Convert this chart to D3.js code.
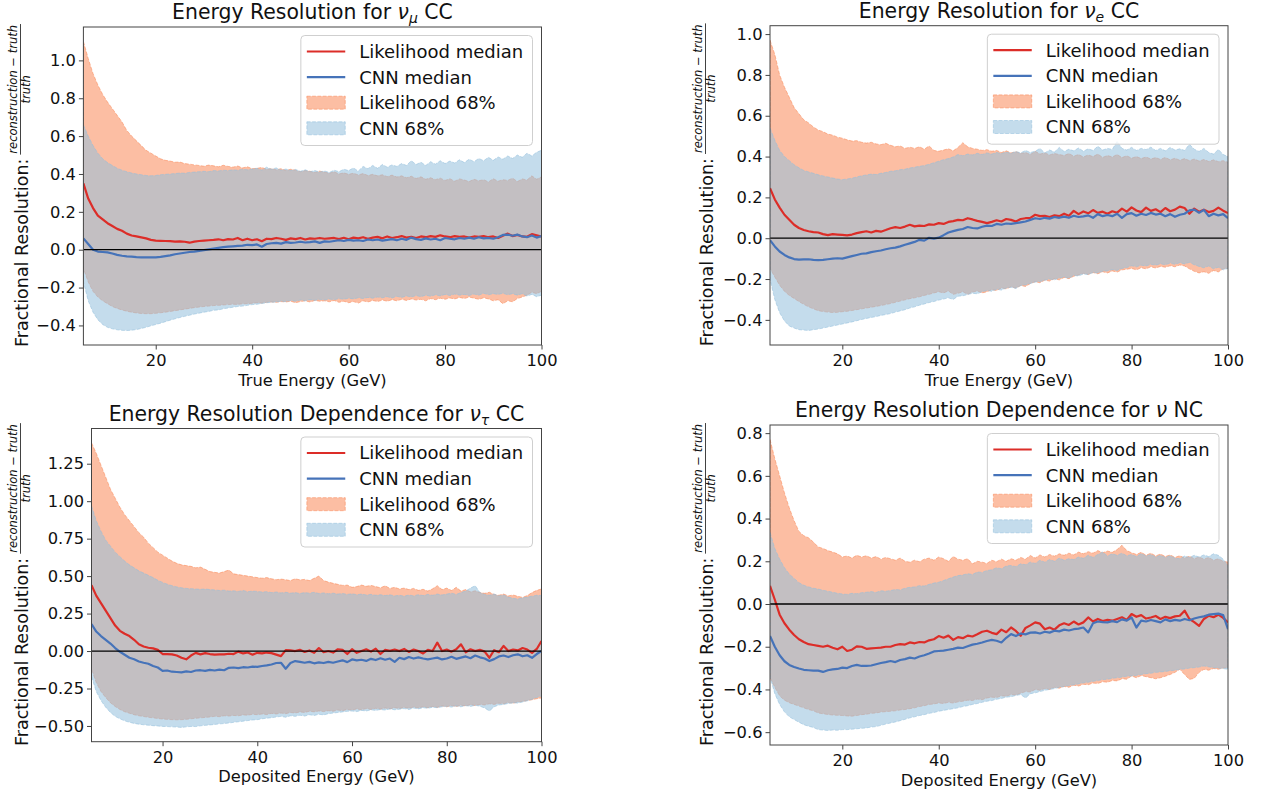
<!DOCTYPE html>
<html>
<head>
<meta charset="utf-8">
<script src="https://cdn.jsdelivr.net/npm/d3@7"></script>
<style>
  body { margin: 0; background: #fff; }
  svg { display: block; }
</style>
</head>
<body>
<svg id="fig" width="1261" height="792"></svg>
<script>
// energy bins (GeV), shared by all four panels
const energy = [5,6,7,8,9,10,11,12,13,14,15,16,17,18,19,20,21,22,23,24,25,26,27,28,29,30,31,32,33,34,35,36,37,38,39,40,41,42,43,44,45,46,47,48,49,50,51,52,53,54,55,56,57,58,59,60,61,62,63,64,65,66,67,68,69,70,71,72,73,74,75,76,77,78,79,80,81,82,83,84,85,86,87,88,89,90,91,92,93,94,95,96,97,98,99,100]

const xTicks = [20, 40, 60, 80, 100]
const numuYTicks = [-0.4, -0.2, 0.0, 0.2, 0.4, 0.6, 0.8, 1.0]
const nueYTicks = [-0.4, -0.2, 0.0, 0.2, 0.4, 0.6, 0.8, 1.0]
const nutauYTicks = [-0.5, -0.25, 0.0, 0.25, 0.5, 0.75, 1.0, 1.25]
const ncYTicks = [-0.6, -0.4, -0.2, 0.0, 0.2, 0.4, 0.6, 0.8]

const legendLabels = ['Likelihood median', 'CNN median', 'Likelihood 68%', 'CNN 68%']

// ---- nu_mu CC ----
const numuLhMed = [0.35,0.27,0.22,0.18,0.16,0.14,0.125,0.11,0.10,0.085,
  0.075,0.07,0.065,0.06,0.052,0.048,0.047,0.046,0.045,0.043,
  0.044,0.042,0.037,0.043,0.046,0.048,0.05,0.052,0.055,0.05,
  0.056,0.054,0.062,0.05,0.058,0.05,0.055,0.045,0.058,0.056,
  0.062,0.058,0.052,0.06,0.056,0.062,0.054,0.06,0.058,0.062,
  0.058,0.06,0.062,0.056,0.063,0.055,0.064,0.06,0.066,0.058,
  0.064,0.068,0.06,0.07,0.062,0.066,0.072,0.064,0.068,0.062,
  0.07,0.066,0.072,0.068,0.076,0.07,0.066,0.072,0.068,0.07,
  0.064,0.07,0.068,0.072,0.066,0.07,0.062,0.074,0.085,0.072,
  0.078,0.07,0.068,0.082,0.076,0.07]
const numuCnnMed = [0.06,0.03,0.0,-0.01,-0.012,-0.014,-0.02,-0.027,-0.032,-0.035,
  -0.037,-0.039,-0.04,-0.041,-0.04,-0.04,-0.038,-0.034,-0.03,-0.024,
  -0.02,-0.016,-0.012,-0.01,-0.006,-0.002,0.002,0.006,0.01,0.014,
  0.016,0.018,0.02,0.022,0.026,0.024,0.028,0.016,0.03,0.034,
  0.036,0.032,0.04,0.036,0.038,0.042,0.038,0.04,0.044,0.036,
  0.044,0.042,0.046,0.05,0.046,0.052,0.048,0.05,0.046,0.054,
  0.05,0.054,0.048,0.052,0.056,0.05,0.058,0.052,0.064,0.056,
  0.052,0.06,0.054,0.058,0.05,0.062,0.058,0.055,0.062,0.058,
  0.064,0.058,0.066,0.06,0.062,0.058,0.066,0.078,0.08,0.074,
  0.08,0.07,0.066,0.075,0.064,0.072]
const numuLhHi = [1.10,1.01,0.93,0.87,0.82,0.78,0.745,0.71,0.675,0.63,
  0.60,0.575,0.55,0.525,0.51,0.495,0.48,0.472,0.468,0.462,
  0.463,0.455,0.452,0.448,0.445,0.441,0.447,0.443,0.438,0.446,
  0.44,0.436,0.442,0.432,0.438,0.428,0.43,0.434,0.425,0.428,
  0.422,0.428,0.418,0.425,0.42,0.412,0.418,0.414,0.408,0.415,
  0.41,0.404,0.412,0.4,0.406,0.398,0.404,0.395,0.402,0.392,
  0.398,0.39,0.396,0.386,0.394,0.384,0.39,0.38,0.388,0.376,
  0.385,0.372,0.38,0.37,0.378,0.366,0.375,0.362,0.374,0.368,
  0.36,0.372,0.364,0.37,0.358,0.375,0.362,0.37,0.366,0.378,
  0.36,0.374,0.368,0.39,0.372,0.385]
const numuLhLo = [-0.10,-0.17,-0.22,-0.25,-0.27,-0.285,-0.3,-0.31,-0.318,-0.325,
  -0.33,-0.334,-0.337,-0.338,-0.338,-0.336,-0.333,-0.33,-0.326,-0.322,
  -0.318,-0.314,-0.31,-0.306,-0.303,-0.3,-0.298,-0.295,-0.294,-0.292,
  -0.29,-0.288,-0.289,-0.286,-0.285,-0.283,-0.28,-0.282,-0.278,-0.276,
  -0.278,-0.274,-0.276,-0.272,-0.28,-0.274,-0.27,-0.276,-0.268,-0.272,
  -0.27,-0.275,-0.268,-0.278,-0.272,-0.28,-0.274,-0.282,-0.27,-0.276,
  -0.268,-0.274,-0.266,-0.272,-0.264,-0.27,-0.262,-0.268,-0.26,-0.266,
  -0.262,-0.27,-0.258,-0.264,-0.256,-0.262,-0.255,-0.26,-0.252,-0.258,
  -0.25,-0.256,-0.262,-0.254,-0.26,-0.27,-0.264,-0.285,-0.27,-0.275,
  -0.258,-0.25,-0.24,-0.225,-0.232,-0.22]
const numuCnnHi = [0.66,0.6,0.55,0.51,0.48,0.46,0.445,0.43,0.42,0.412,
  0.405,0.4,0.396,0.392,0.39,0.392,0.396,0.398,0.4,0.402,
  0.405,0.404,0.408,0.41,0.412,0.414,0.412,0.418,0.416,0.42,
  0.418,0.422,0.42,0.425,0.422,0.426,0.43,0.42,0.436,0.425,
  0.432,0.42,0.426,0.418,0.424,0.414,0.422,0.412,0.418,0.41,
  0.416,0.408,0.42,0.412,0.425,0.418,0.432,0.415,0.44,0.428,
  0.445,0.43,0.45,0.436,0.448,0.44,0.455,0.445,0.47,0.45,
  0.462,0.445,0.465,0.452,0.47,0.455,0.468,0.458,0.475,0.46,
  0.478,0.465,0.482,0.47,0.488,0.472,0.49,0.478,0.495,0.482,
  0.5,0.488,0.51,0.495,0.515,0.525]
const numuCnnLo = [-0.17,-0.27,-0.33,-0.37,-0.395,-0.41,-0.418,-0.423,-0.426,-0.427,
  -0.425,-0.422,-0.416,-0.41,-0.402,-0.395,-0.388,-0.38,-0.372,-0.365,
  -0.358,-0.352,-0.346,-0.34,-0.335,-0.33,-0.326,-0.32,-0.318,-0.312,
  -0.308,-0.304,-0.3,-0.298,-0.294,-0.29,-0.288,-0.284,-0.28,-0.278,
  -0.276,-0.272,-0.274,-0.268,-0.272,-0.266,-0.27,-0.264,-0.268,-0.262,
  -0.266,-0.26,-0.264,-0.258,-0.262,-0.256,-0.26,-0.254,-0.258,-0.252,
  -0.256,-0.25,-0.254,-0.248,-0.255,-0.246,-0.252,-0.244,-0.25,-0.242,
  -0.248,-0.24,-0.246,-0.238,-0.244,-0.236,-0.242,-0.234,-0.24,-0.236,
  -0.242,-0.234,-0.24,-0.23,-0.238,-0.232,-0.236,-0.23,-0.238,-0.232,
  -0.24,-0.232,-0.245,-0.236,-0.248,-0.24]

// ---- nu_e CC ----
const nueLhMed = [0.245,0.19,0.15,0.115,0.09,0.066,0.05,0.04,0.034,0.03,
  0.028,0.02,0.015,0.02,0.018,0.016,0.014,0.018,0.025,0.03,
  0.034,0.028,0.036,0.032,0.04,0.049,0.054,0.05,0.057,0.066,
  0.058,0.062,0.06,0.068,0.066,0.074,0.07,0.08,0.084,0.09,
  0.088,0.098,0.092,0.085,0.08,0.074,0.08,0.088,0.082,0.094,
  0.09,0.082,0.094,0.098,0.1,0.115,0.108,0.11,0.104,0.112,
  0.108,0.12,0.11,0.134,0.118,0.131,0.122,0.138,0.124,0.13,
  0.12,0.132,0.125,0.145,0.13,0.151,0.136,0.128,0.15,0.134,
  0.142,0.128,0.148,0.132,0.14,0.155,0.148,0.12,0.145,0.13,
  0.14,0.128,0.134,0.15,0.135,0.123]
const nueCnnMed = [-0.01,-0.04,-0.065,-0.082,-0.094,-0.102,-0.105,-0.104,-0.103,-0.106,
  -0.107,-0.106,-0.103,-0.1,-0.098,-0.1,-0.094,-0.088,-0.082,-0.076,
  -0.074,-0.068,-0.064,-0.06,-0.054,-0.049,-0.046,-0.04,-0.032,-0.025,
  -0.018,-0.008,-0.012,0.002,-0.002,0.003,0.015,0.028,0.035,0.041,
  0.045,0.055,0.05,0.048,0.056,0.062,0.06,0.07,0.066,0.072,
  0.07,0.074,0.078,0.082,0.09,0.098,0.094,0.1,0.096,0.104,
  0.1,0.106,0.1,0.11,0.104,0.107,0.112,0.1,0.118,0.108,
  0.114,0.108,0.12,0.1,0.118,0.123,0.11,0.12,0.114,0.124,
  0.116,0.12,0.108,0.118,0.105,0.115,0.12,0.136,0.14,0.125,
  0.139,0.108,0.12,0.112,0.118,0.098]
const nueLhHi = [0.97,0.90,0.80,0.74,0.69,0.64,0.61,0.58,0.565,0.545,
  0.53,0.522,0.51,0.505,0.495,0.49,0.482,0.476,0.478,0.47,
  0.466,0.47,0.462,0.458,0.465,0.455,0.448,0.452,0.44,0.446,
  0.44,0.448,0.436,0.452,0.43,0.426,0.432,0.438,0.428,0.445,
  0.468,0.448,0.44,0.436,0.43,0.434,0.426,0.43,0.42,0.428,
  0.418,0.424,0.415,0.42,0.41,0.426,0.412,0.418,0.408,0.415,
  0.41,0.405,0.415,0.402,0.41,0.398,0.408,0.4,0.412,0.396,
  0.405,0.398,0.41,0.395,0.404,0.392,0.4,0.39,0.398,0.388,
  0.395,0.386,0.396,0.384,0.392,0.382,0.39,0.38,0.388,0.378,
  0.386,0.376,0.384,0.375,0.38,0.372]
const nueLhLo = [-0.148,-0.19,-0.23,-0.26,-0.28,-0.295,-0.31,-0.324,-0.336,-0.346,
  -0.355,-0.359,-0.362,-0.364,-0.363,-0.36,-0.358,-0.354,-0.35,-0.346,
  -0.342,-0.338,-0.334,-0.33,-0.325,-0.32,-0.314,-0.308,-0.302,-0.296,
  -0.292,-0.287,-0.28,-0.275,-0.268,-0.262,-0.268,-0.258,-0.275,-0.27,
  -0.262,-0.275,-0.264,-0.258,-0.268,-0.262,-0.252,-0.256,-0.244,-0.248,
  -0.238,-0.244,-0.232,-0.236,-0.222,-0.213,-0.218,-0.205,-0.21,-0.198,
  -0.204,-0.192,-0.198,-0.186,-0.18,-0.172,-0.178,-0.168,-0.174,-0.164,
  -0.17,-0.16,-0.166,-0.155,-0.152,-0.148,-0.155,-0.145,-0.15,-0.14,
  -0.146,-0.138,-0.142,-0.135,-0.14,-0.131,-0.136,-0.15,-0.162,-0.17,
  -0.164,-0.172,-0.158,-0.165,-0.15,-0.148]
const nueCnnHi = [0.54,0.48,0.43,0.40,0.38,0.36,0.345,0.332,0.325,0.318,
  0.311,0.305,0.3,0.295,0.29,0.287,0.29,0.294,0.3,0.306,
  0.31,0.314,0.312,0.318,0.322,0.328,0.33,0.336,0.338,0.344,
  0.348,0.352,0.356,0.362,0.37,0.377,0.385,0.39,0.398,0.41,
  0.404,0.412,0.408,0.416,0.41,0.418,0.412,0.42,0.415,0.422,
  0.416,0.425,0.418,0.43,0.42,0.426,0.44,0.418,0.432,0.422,
  0.445,0.425,0.436,0.428,0.442,0.426,0.438,0.43,0.45,0.432,
  0.44,0.435,0.475,0.44,0.432,0.445,0.43,0.44,0.434,0.446,
  0.43,0.44,0.428,0.445,0.432,0.438,0.43,0.46,0.436,0.425,
  0.44,0.42,0.412,0.435,0.41,0.40]
const nueCnnLo = [-0.2,-0.3,-0.365,-0.405,-0.43,-0.44,-0.448,-0.45,-0.452,-0.448,
  -0.445,-0.44,-0.435,-0.43,-0.425,-0.42,-0.415,-0.41,-0.404,-0.398,
  -0.393,-0.388,-0.384,-0.378,-0.374,-0.369,-0.362,-0.356,-0.35,-0.342,
  -0.336,-0.328,-0.322,-0.315,-0.31,-0.303,-0.298,-0.292,-0.3,-0.284,
  -0.282,-0.276,-0.27,-0.272,-0.262,-0.256,-0.26,-0.25,-0.254,-0.244,
  -0.24,-0.246,-0.232,-0.228,-0.222,-0.215,-0.212,-0.206,-0.2,-0.204,
  -0.195,-0.19,-0.196,-0.182,-0.185,-0.175,-0.178,-0.168,-0.17,-0.162,
  -0.16,-0.154,-0.158,-0.148,-0.144,-0.135,-0.14,-0.132,-0.136,-0.128,
  -0.132,-0.125,-0.13,-0.122,-0.128,-0.12,-0.126,-0.118,-0.13,-0.138,
  -0.145,-0.136,-0.15,-0.142,-0.155,-0.148]

// ---- nu_tau CC ----
const nutauLhMed = [0.44,0.37,0.32,0.27,0.22,0.17,0.135,0.115,0.1,0.075,
  0.045,0.03,0.022,0.018,0.008,-0.02,-0.02,-0.022,-0.03,-0.045,
  -0.055,-0.03,-0.012,-0.022,-0.014,-0.02,-0.024,-0.022,-0.022,-0.018,
  -0.02,-0.004,-0.016,-0.01,-0.024,-0.012,-0.016,-0.01,-0.014,-0.024,
  -0.034,0.006,0.004,0.0,0.008,-0.006,0.004,-0.012,0.02,-0.008,
  0.0,-0.01,0.012,0.008,-0.02,0.012,-0.012,0.0,0.012,-0.004,
  0.016,-0.02,0.008,0.002,0.01,0.0,0.014,-0.006,0.01,0.0,
  -0.016,0.008,0.0,0.056,0.0,0.01,-0.004,0.012,0.045,-0.008,
  0.012,0.0,0.008,-0.004,-0.045,0.006,-0.008,0.034,0.0,0.01,
  0.004,0.02,0.01,-0.012,0.014,0.067]
const nutauCnnMed = [0.18,0.13,0.1,0.075,0.05,0.02,-0.005,-0.025,-0.045,-0.055,
  -0.07,-0.078,-0.085,-0.1,-0.11,-0.132,-0.13,-0.138,-0.14,-0.142,
  -0.136,-0.14,-0.13,-0.128,-0.132,-0.126,-0.13,-0.124,-0.128,-0.112,
  -0.11,-0.114,-0.108,-0.11,-0.104,-0.106,-0.1,-0.096,-0.09,-0.08,
  -0.078,-0.118,-0.08,-0.067,-0.072,-0.078,-0.072,-0.082,-0.076,-0.08,
  -0.072,-0.078,-0.07,-0.062,-0.074,-0.056,-0.062,-0.058,-0.066,-0.052,
  -0.06,-0.048,-0.058,-0.05,-0.072,-0.045,-0.054,-0.04,-0.05,-0.042,
  -0.05,-0.056,-0.05,-0.044,-0.056,-0.05,-0.038,-0.052,-0.044,-0.036,
  -0.048,-0.03,-0.042,-0.05,-0.067,-0.054,-0.036,-0.03,-0.04,-0.028,
  -0.022,-0.035,-0.028,-0.045,-0.02,0.0]
const nutauLhHi = [1.39,1.32,1.24,1.16,1.08,1.02,0.96,0.91,0.87,0.83,
  0.79,0.76,0.72,0.69,0.66,0.64,0.62,0.6,0.585,0.575,
  0.57,0.565,0.555,0.56,0.545,0.53,0.525,0.52,0.53,0.54,
  0.515,0.51,0.505,0.5,0.495,0.49,0.486,0.49,0.482,0.476,
  0.48,0.476,0.47,0.482,0.475,0.478,0.47,0.485,0.5,0.47,
  0.46,0.452,0.445,0.438,0.44,0.425,0.43,0.44,0.432,0.438,
  0.43,0.422,0.435,0.418,0.425,0.414,0.42,0.41,0.418,0.405,
  0.412,0.4,0.415,0.436,0.41,0.42,0.404,0.425,0.4,0.41,
  0.395,0.402,0.39,0.385,0.392,0.378,0.372,0.38,0.368,0.374,
  0.365,0.358,0.37,0.39,0.405,0.414]
const nutauLhLo = [-0.12,-0.21,-0.27,-0.31,-0.345,-0.37,-0.39,-0.405,-0.415,-0.425,
  -0.432,-0.437,-0.442,-0.446,-0.45,-0.454,-0.456,-0.458,-0.459,-0.458,
  -0.456,-0.452,-0.449,-0.446,-0.443,-0.44,-0.436,-0.438,-0.432,-0.434,
  -0.43,-0.432,-0.426,-0.428,-0.422,-0.425,-0.42,-0.424,-0.416,-0.42,
  -0.414,-0.418,-0.41,-0.414,-0.406,-0.41,-0.402,-0.406,-0.4,-0.404,
  -0.398,-0.402,-0.394,-0.398,-0.39,-0.394,-0.386,-0.392,-0.384,-0.39,
  -0.382,-0.388,-0.38,-0.386,-0.378,-0.384,-0.376,-0.382,-0.374,-0.38,
  -0.372,-0.378,-0.37,-0.376,-0.366,-0.372,-0.364,-0.37,-0.362,-0.366,
  -0.358,-0.364,-0.356,-0.36,-0.352,-0.356,-0.348,-0.352,-0.344,-0.348,
  -0.34,-0.336,-0.33,-0.325,-0.318,-0.313]
const nutauCnnHi = [0.97,0.87,0.8,0.74,0.7,0.66,0.63,0.6,0.575,0.555,
  0.535,0.52,0.505,0.49,0.472,0.458,0.446,0.436,0.428,0.422,
  0.418,0.416,0.414,0.412,0.414,0.41,0.408,0.404,0.406,0.4,
  0.402,0.398,0.404,0.396,0.4,0.398,0.394,0.396,0.39,0.394,
  0.388,0.392,0.386,0.39,0.384,0.39,0.386,0.392,0.384,0.388,
  0.382,0.386,0.38,0.384,0.378,0.382,0.376,0.38,0.374,0.378,
  0.372,0.376,0.37,0.375,0.368,0.372,0.366,0.374,0.368,0.376,
  0.37,0.378,0.372,0.38,0.374,0.38,0.386,0.378,0.39,0.4,
  0.42,0.436,0.39,0.378,0.372,0.38,0.368,0.374,0.36,0.352,
  0.347,0.355,0.36,0.366,0.372,0.37]
const nutauCnnLo = [-0.17,-0.27,-0.33,-0.375,-0.41,-0.436,-0.452,-0.466,-0.475,-0.483,
  -0.488,-0.492,-0.495,-0.498,-0.5,-0.503,-0.504,-0.506,-0.507,-0.51,
  -0.506,-0.503,-0.504,-0.499,-0.496,-0.493,-0.49,-0.486,-0.484,-0.48,
  -0.476,-0.472,-0.468,-0.464,-0.46,-0.458,-0.452,-0.448,-0.445,-0.44,
  -0.436,-0.442,-0.432,-0.436,-0.428,-0.434,-0.425,-0.43,-0.422,-0.426,
  -0.418,-0.414,-0.41,-0.406,-0.402,-0.4,-0.404,-0.396,-0.4,-0.392,
  -0.396,-0.39,-0.394,-0.386,-0.392,-0.388,-0.384,-0.39,-0.38,-0.386,
  -0.378,-0.382,-0.375,-0.378,-0.372,-0.369,-0.374,-0.366,-0.372,-0.364,
  -0.37,-0.362,-0.368,-0.38,-0.4,-0.372,-0.36,-0.356,-0.35,-0.346,
  -0.347,-0.34,-0.332,-0.322,-0.31,-0.3]

// ---- nu NC ----
const ncLhMed = [0.085,0.02,-0.05,-0.09,-0.12,-0.145,-0.165,-0.178,-0.188,-0.192,
  -0.196,-0.2,-0.195,-0.205,-0.212,-0.2,-0.22,-0.214,-0.198,-0.2,
  -0.21,-0.208,-0.206,-0.204,-0.2,-0.2,-0.192,-0.188,-0.19,-0.18,
  -0.184,-0.178,-0.18,-0.17,-0.165,-0.15,-0.158,-0.148,-0.168,-0.155,
  -0.16,-0.148,-0.152,-0.142,-0.13,-0.125,-0.135,-0.141,-0.12,-0.132,
  -0.11,-0.126,-0.149,-0.112,-0.1,-0.086,-0.092,-0.118,-0.11,-0.12,
  -0.1,-0.09,-0.098,-0.082,-0.096,-0.086,-0.063,-0.082,-0.07,-0.08,
  -0.074,-0.078,-0.07,-0.062,-0.075,-0.047,-0.06,-0.052,-0.068,-0.063,
  -0.056,-0.07,-0.06,-0.066,-0.058,-0.055,-0.031,-0.07,-0.085,-0.102,
  -0.07,-0.055,-0.062,-0.05,-0.065,-0.086]
const ncCnnMed = [-0.15,-0.2,-0.24,-0.268,-0.285,-0.295,-0.302,-0.308,-0.31,-0.312,
  -0.312,-0.318,-0.31,-0.306,-0.304,-0.298,-0.3,-0.29,-0.285,-0.29,
  -0.29,-0.288,-0.282,-0.276,-0.272,-0.267,-0.272,-0.262,-0.258,-0.251,
  -0.255,-0.246,-0.24,-0.232,-0.222,-0.22,-0.218,-0.214,-0.21,-0.204,
  -0.206,-0.198,-0.19,-0.186,-0.18,-0.173,-0.168,-0.172,-0.18,-0.158,
  -0.141,-0.15,-0.138,-0.142,-0.134,-0.133,-0.138,-0.13,-0.134,-0.125,
  -0.128,-0.12,-0.124,-0.118,-0.115,-0.11,-0.133,-0.09,-0.082,-0.085,
  -0.086,-0.08,-0.085,-0.072,-0.078,-0.063,-0.11,-0.078,-0.082,-0.075,
  -0.08,-0.086,-0.072,-0.08,-0.074,-0.078,-0.07,-0.076,-0.068,-0.062,
  -0.058,-0.05,-0.047,-0.045,-0.052,-0.118]
const ncLhHi = [0.77,0.68,0.6,0.52,0.45,0.39,0.34,0.32,0.31,0.29,
  0.267,0.26,0.25,0.243,0.235,0.22,0.225,0.215,0.228,0.22,
  0.226,0.215,0.222,0.21,0.218,0.212,0.205,0.215,0.2,0.196,
  0.205,0.198,0.21,0.215,0.205,0.22,0.212,0.2,0.222,0.21,
  0.205,0.212,0.188,0.2,0.196,0.19,0.205,0.198,0.21,0.2,
  0.212,0.205,0.218,0.21,0.227,0.215,0.23,0.22,0.232,0.224,
  0.235,0.228,0.238,0.23,0.243,0.235,0.245,0.238,0.25,0.24,
  0.248,0.242,0.255,0.275,0.25,0.24,0.232,0.242,0.228,0.238,
  0.225,0.234,0.222,0.23,0.218,0.226,0.215,0.224,0.212,0.22,
  0.21,0.218,0.205,0.212,0.2,0.196]
const ncLhLo = [-0.345,-0.39,-0.43,-0.45,-0.462,-0.47,-0.478,-0.486,-0.494,-0.5,
  -0.51,-0.514,-0.517,-0.52,-0.521,-0.522,-0.524,-0.525,-0.522,-0.518,
  -0.516,-0.512,-0.51,-0.506,-0.504,-0.502,-0.5,-0.496,-0.494,-0.49,
  -0.486,-0.48,-0.476,-0.47,-0.468,-0.463,-0.466,-0.46,-0.464,-0.458,
  -0.455,-0.45,-0.452,-0.445,-0.448,-0.44,-0.436,-0.438,-0.43,-0.432,
  -0.424,-0.426,-0.418,-0.41,-0.412,-0.4,-0.404,-0.396,-0.4,-0.39,
  -0.394,-0.386,-0.39,-0.38,-0.384,-0.376,-0.378,-0.37,-0.372,-0.364,
  -0.366,-0.358,-0.36,-0.35,-0.352,-0.337,-0.345,-0.335,-0.34,-0.345,
  -0.35,-0.345,-0.338,-0.33,-0.32,-0.306,-0.33,-0.353,-0.348,-0.32,
  -0.306,-0.31,-0.302,-0.305,-0.3,-0.298]
const ncCnnHi = [0.335,0.26,0.21,0.17,0.14,0.12,0.1,0.088,0.08,0.074,
  0.07,0.064,0.06,0.055,0.05,0.047,0.045,0.05,0.048,0.053,
  0.055,0.058,0.054,0.062,0.06,0.063,0.068,0.066,0.074,0.078,
  0.08,0.086,0.084,0.092,0.098,0.102,0.11,0.118,0.126,0.133,
  0.136,0.142,0.138,0.15,0.148,0.157,0.16,0.17,0.165,0.178,
  0.18,0.175,0.188,0.184,0.196,0.19,0.205,0.196,0.208,0.2,
  0.215,0.205,0.212,0.208,0.22,0.214,0.228,0.218,0.232,0.243,
  0.225,0.235,0.228,0.238,0.226,0.232,0.222,0.236,0.225,0.232,
  0.22,0.228,0.218,0.226,0.215,0.212,0.225,0.218,0.228,0.22,
  0.23,0.222,0.235,0.228,0.21,0.18]
const ncCnnLo = [-0.34,-0.42,-0.47,-0.505,-0.528,-0.541,-0.553,-0.565,-0.572,-0.578,
  -0.588,-0.59,-0.592,-0.59,-0.591,-0.588,-0.588,-0.586,-0.584,-0.582,
  -0.58,-0.576,-0.574,-0.568,-0.562,-0.557,-0.552,-0.546,-0.54,-0.533,
  -0.528,-0.522,-0.518,-0.512,-0.508,-0.502,-0.498,-0.494,-0.49,-0.486,
  -0.48,-0.476,-0.47,-0.466,-0.46,-0.455,-0.452,-0.446,-0.442,-0.436,
  -0.434,-0.428,-0.424,-0.44,-0.42,-0.416,-0.41,-0.404,-0.4,-0.396,
  -0.39,-0.386,-0.382,-0.378,-0.374,-0.369,-0.366,-0.362,-0.358,-0.354,
  -0.352,-0.348,-0.345,-0.342,-0.338,-0.337,-0.334,-0.33,-0.326,-0.324,
  -0.32,-0.318,-0.316,-0.312,-0.31,-0.306,-0.304,-0.3,-0.298,-0.295,
  -0.29,-0.294,-0.298,-0.3,-0.302,-0.306]

// styling shared by all panels
const config = {
  font: '"DejaVu Sans", sans-serif',
  red: '#dc2d28',
  blue: '#4673b9',
  lhFill: '#f98958',
  cnnFill: '#94bfdc',
  bandAlpha: 0.55,
  axisColor: '#444'
}

// panel boxes (pixel positions in the figure)
const panels = [
  { title: 'Energy Resolution for ', nu: 'ν', sub: 'μ', tail: ' CC', xlabel: 'True Energy (GeV)',
    left: 83.4, right: 541.5, top: 27, bottom: 345, ylabelX: 28, yTicks: numuYTicks, yFmt: '.1f',
    lhMed: numuLhMed, cnnMed: numuCnnMed, lhLo: numuLhLo, lhHi: numuLhHi, cnnLo: numuCnnLo, cnnHi: numuCnnHi },
  { title: 'Energy Resolution for ', nu: 'ν', sub: 'e', tail: ' CC', xlabel: 'True Energy (GeV)',
    left: 770, right: 1228, top: 25.7, bottom: 345, ylabelX: 713, yTicks: nueYTicks, yFmt: '.1f',
    lhMed: nueLhMed, cnnMed: nueCnnMed, lhLo: nueLhLo, lhHi: nueLhHi, cnnLo: nueCnnLo, cnnHi: nueCnnHi },
  { title: 'Energy Resolution Dependence for ', nu: 'ν', sub: 'τ', tail: ' CC', xlabel: 'Deposited Energy (GeV)',
    left: 91.5, right: 541.5, top: 428.5, bottom: 741.7, ylabelX: 28, yTicks: nutauYTicks, yFmt: '.2f',
    lhMed: nutauLhMed, cnnMed: nutauCnnMed, lhLo: nutauLhLo, lhHi: nutauLhHi, cnnLo: nutauCnnLo, cnnHi: nutauCnnHi },
  { title: 'Energy Resolution Dependence for ', nu: 'ν', sub: null, tail: ' NC', xlabel: 'Deposited Energy (GeV)',
    left: 770, right: 1228, top: 425, bottom: 745, ylabelX: 713, yTicks: ncYTicks, yFmt: '.1f',
    lhMed: ncLhMed, cnnMed: ncCnnMed, lhLo: ncLhLo, lhHi: ncLhHi, cnnLo: ncCnnLo, cnnHi: ncCnnHi }
]

const svg = d3.select('#fig')
  .attr('font-family', config.font)

function drawPanel(p, k) {
  const g = svg.append('g')

  // x limits fixed like the original, y limits = data range + 5% margins
  const x = d3.scaleLinear().domain([5, 100]).range([p.left, p.right])
  const lo = d3.min(p.lhLo.concat(p.cnnLo))
  const hi = d3.max(p.lhHi.concat(p.cnnHi))
  const pad = (hi - lo) * 0.05
  const y = d3.scaleLinear().domain([lo - pad, hi + pad]).range([p.bottom, p.top])

  const clipId = 'clip' + k
  g.append('clipPath').attr('id', clipId)
    .append('rect')
    .attr('x', p.left).attr('y', p.top)
    .attr('width', p.right - p.left).attr('height', p.bottom - p.top)

  const plot = g.append('g').attr('clip-path', `url(#${clipId})`)

  // 68% bands, likelihood first then CNN on top
  const band = (low, high) => d3.area()
    .x(d => x(d))
    .y0((d, i) => y(low[i]))
    .y1((d, i) => y(high[i]))

  plot.append('path')
    .datum(energy)
    .attr('d', band(p.lhLo, p.lhHi))
    .attr('fill', config.lhFill)
    .attr('fill-opacity', config.bandAlpha)
    .attr('stroke', config.lhFill)
    .attr('stroke-opacity', config.bandAlpha)
    .attr('stroke-width', 1)
    .attr('stroke-dasharray', '3.7,1.6')

  plot.append('path')
    .datum(energy)
    .attr('d', band(p.cnnLo, p.cnnHi))
    .attr('fill', config.cnnFill)
    .attr('fill-opacity', config.bandAlpha)
    .attr('stroke', config.cnnFill)
    .attr('stroke-opacity', config.bandAlpha)
    .attr('stroke-width', 1)
    .attr('stroke-dasharray', '3.7,1.6')

  // medians
  const line = d3.line()
    .x((d, i) => x(energy[i]))
    .y(d => y(d))

  plot.append('path')
    .datum(p.lhMed)
    .attr('d', line)
    .attr('fill', 'none')
    .attr('stroke', config.red)
    .attr('stroke-width', 2.2)
    .attr('stroke-linejoin', 'round')

  plot.append('path')
    .datum(p.cnnMed)
    .attr('d', line)
    .attr('fill', 'none')
    .attr('stroke', config.blue)
    .attr('stroke-width', 2.2)
    .attr('stroke-linejoin', 'round')

  // zero line
  plot.append('line')
    .attr('x1', p.left).attr('x2', p.right)
    .attr('y1', y(0)).attr('y2', y(0))
    .attr('stroke', '#000')
    .attr('stroke-width', 1.3)

  // axes
  g.append('g')
    .attr('transform', `translate(0,${p.bottom})`)
    .call(d3.axisBottom(x).tickValues(xTicks).tickSize(4.5).tickPadding(5).tickFormat(d3.format('d')))
    .call(a => a.select('.domain').remove())
    .call(a => a.selectAll('line').attr('stroke', config.axisColor))
    .attr('font-family', config.font)
    .attr('font-size', 16.3)
    .call(a => a.selectAll('text').attr('fill', '#111'))

  g.append('g')
    .attr('transform', `translate(${p.left},0)`)
    .call(d3.axisLeft(y).tickValues(p.yTicks).tickSize(4.5).tickPadding(3).tickFormat(d3.format(p.yFmt)))
    .call(a => a.select('.domain').remove())
    .call(a => a.selectAll('line').attr('stroke', config.axisColor))
    .attr('font-family', config.font)
    .attr('font-size', 16.3)
    .call(a => a.selectAll('text').attr('fill', '#111'))

  // frame
  g.append('rect')
    .attr('x', p.left).attr('y', p.top)
    .attr('width', p.right - p.left).attr('height', p.bottom - p.top)
    .attr('fill', 'none')
    .attr('stroke', config.axisColor)
    .attr('stroke-width', 1)

  // title with greek letter and subscript
  const t = g.append('text')
    .attr('x', (p.left + p.right) / 2)
    .attr('y', p.top - 8)
    .attr('text-anchor', 'middle')
    .attr('font-size', 20.4)
    .attr('fill', '#111')
  t.append('tspan').text(p.title)
  t.append('tspan').attr('font-style', 'italic').text(p.nu)
  if (p.sub) {
    t.append('tspan').attr('font-style', 'italic').attr('font-size', 14).attr('dy', 4).text(p.sub)
    t.append('tspan').attr('dy', -4).text(p.tail)
  } else {
    t.append('tspan').text(p.tail)
  }

  // x label
  g.append('text')
    .attr('x', (p.left + p.right) / 2)
    .attr('y', p.bottom + 40.5)
    .attr('text-anchor', 'middle')
    .attr('font-size', 16.3)
    .attr('fill', '#111')
    .text(p.xlabel)

  // y label: text followed by a small fraction
  const yl = g.append('g')
    .attr('transform', `translate(${p.ylabelX},${(p.top + p.bottom) / 2}) rotate(-90)`)
  const inner = yl.append('g')
  const main = inner.append('text')
    .attr('font-size', 17.5)
    .attr('fill', '#111')
    .text('Fractional Resolution:')
  const mw = main.node().getComputedTextLength() + 5
  const num = inner.append('text')
    .attr('x', mw)
    .attr('y', -11)
    .attr('font-size', 11.5)
    .attr('font-style', 'italic')
    .attr('fill', '#111')
    .text('reconstruction − truth')
  const nw = num.node().getComputedTextLength()
  const den = inner.append('text')
    .attr('y', 1.5)
    .attr('font-size', 11.5)
    .attr('font-style', 'italic')
    .attr('fill', '#111')
    .text('truth')
  const dw = den.node().getComputedTextLength()
  den.attr('x', mw + (nw - dw) / 2)
  inner.append('line')
    .attr('x1', mw - 1).attr('x2', mw + nw + 1)
    .attr('y1', -7.5).attr('y2', -7.5)
    .attr('stroke', '#111')
    .attr('stroke-width', 0.8)
  inner.attr('transform', `translate(${-(mw + nw) / 2},0)`)

  // legend
  const lg = g.append('g')
  const widths = legendLabels.map(s => {
    const tmp = lg.append('text').attr('font-size', 18).text(s)
    const w = tmp.node().getComputedTextLength()
    tmp.remove()
    return w
  })
  const boxW = 58.4 + d3.max(widths) + 9.3
  const boxH = 110
  const bx = p.right - 9 - boxW
  const by = p.top + 8.5

  lg.append('rect')
    .attr('x', bx).attr('y', by)
    .attr('width', boxW).attr('height', boxH)
    .attr('rx', 4)
    .attr('fill', '#fff')
    .attr('fill-opacity', 0.8)
    .attr('stroke', '#cfcfcf')
    .attr('stroke-width', 1)

  const rows = [
    { kind: 'line', color: config.red },
    { kind: 'line', color: config.blue },
    { kind: 'band', color: config.lhFill },
    { kind: 'band', color: config.cnnFill }
  ]
  rows.forEach((r, i) => {
    const cy = by + 16 + i * 25.6
    if (r.kind === 'line') {
      lg.append('line')
        .attr('x1', bx + 6).attr('x2', bx + 44.4)
        .attr('y1', cy).attr('y2', cy)
        .attr('stroke', r.color)
        .attr('stroke-width', 2.2)
    } else {
      lg.append('rect')
        .attr('x', bx + 6).attr('y', cy - 6.5)
        .attr('width', 38.4).attr('height', 13)
        .attr('fill', r.color)
        .attr('fill-opacity', config.bandAlpha)
        .attr('stroke', r.color)
        .attr('stroke-opacity', config.bandAlpha)
        .attr('stroke-dasharray', '3.7,1.6')
    }
    lg.append('text')
      .attr('x', bx + 58.4)
      .attr('y', cy + 6.4)
      .attr('font-size', 18)
      .attr('fill', '#111')
      .text(legendLabels[i])
  })
}

panels.forEach(drawPanel)
</script>
</body>
</html>
